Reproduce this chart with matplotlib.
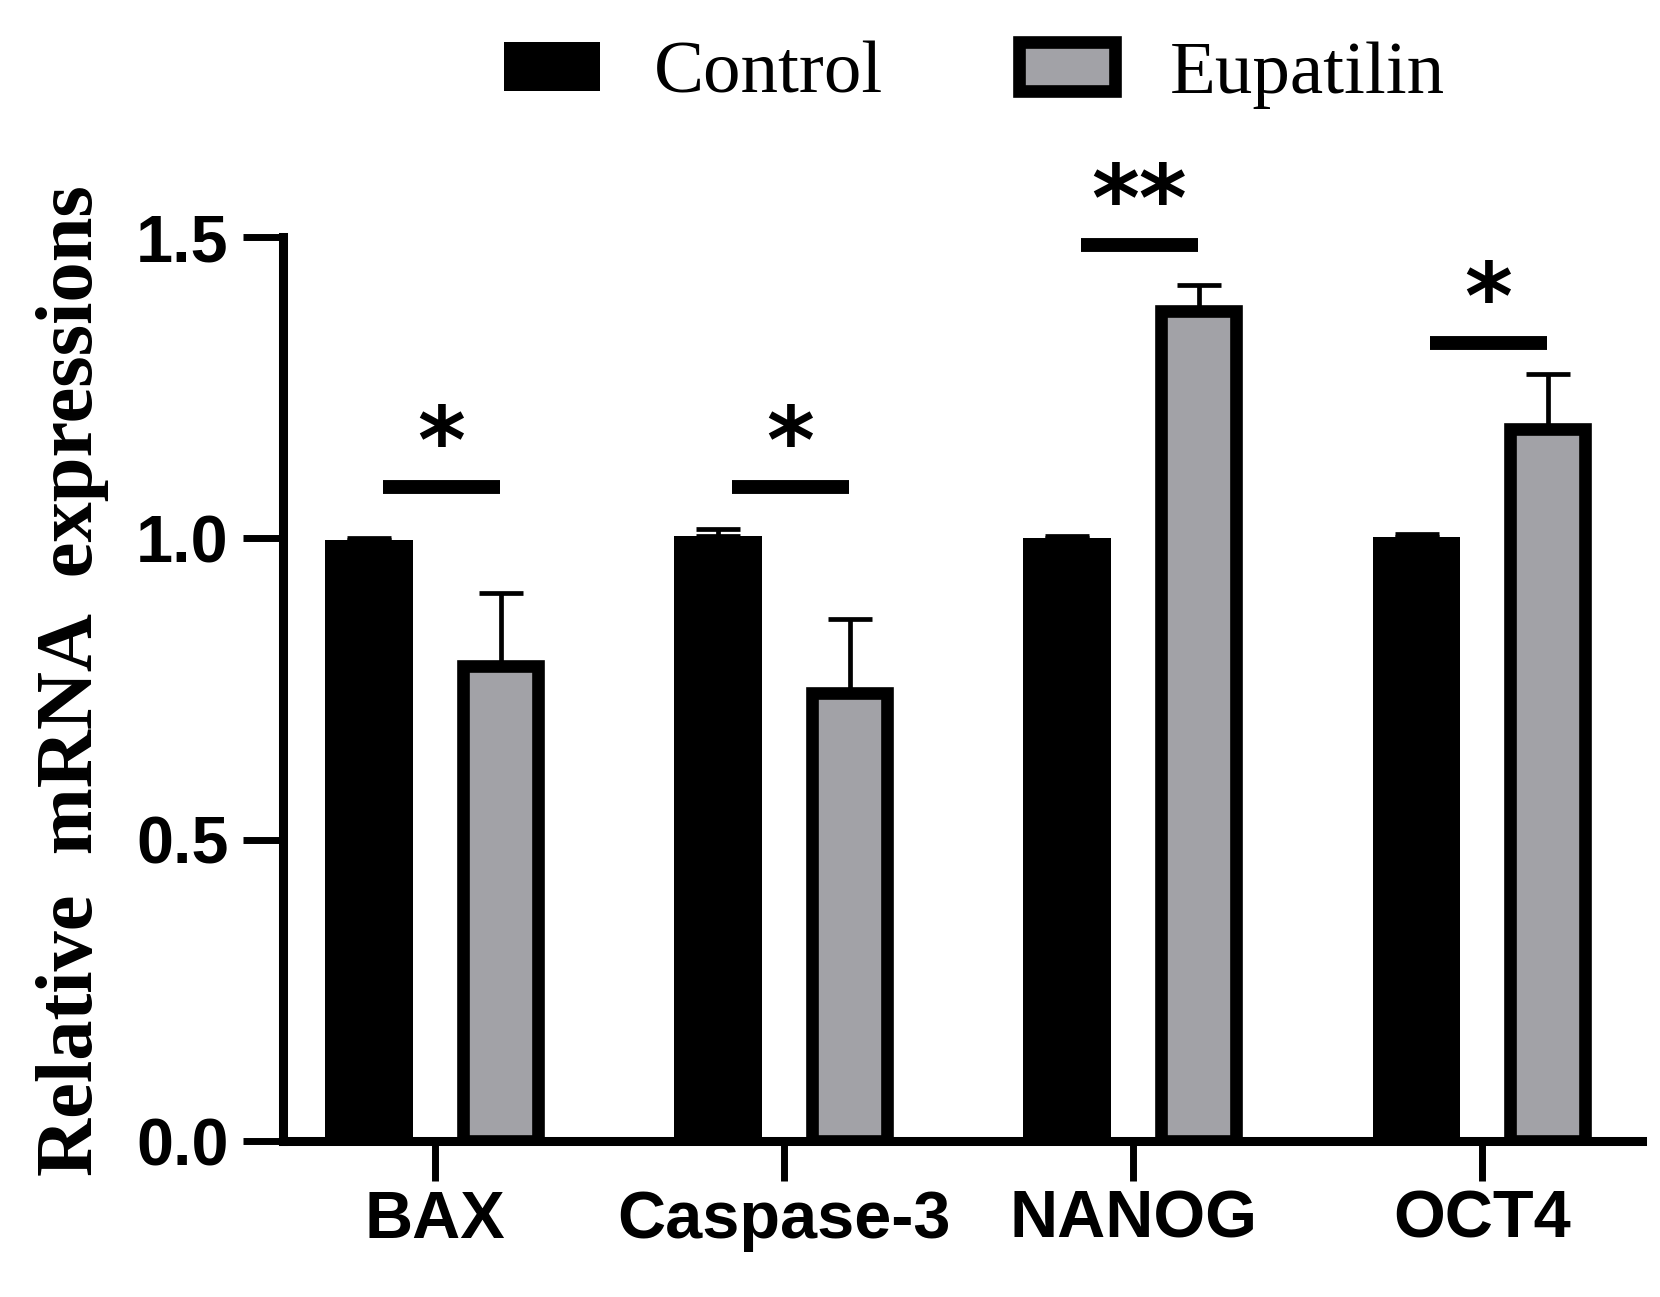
import matplotlib
matplotlib.use("Agg")
import matplotlib.pyplot as plt
import numpy as np

categories = ["BAX", "Caspase-3", "NANOG", "OCT4"]
control_vals = [0.997, 1.004, 1.000, 1.003]
control_err = [0.004, 0.011, 0.004, 0.005]
eupatilin_vals = [0.788, 0.743, 1.377, 1.182]
eupatilin_err = [0.121, 0.123, 0.044, 0.090]
sig_labels = ["*", "*", "**", "*"]
sig_line_y = [1.085, 1.085, 1.486, 1.324]
series_names = ["Control", "Eupatilin"]
yticks = [0.0, 0.5, 1.0, 1.5]

W, H = 1660, 1297
fig = plt.figure(figsize=(W / 100, H / 100), dpi=100)
ax = fig.add_axes([283 / W, 1 - 1141 / H, (1642 - 283) / W, (1141 - 237) / H])

x = np.arange(len(categories))
off = 0.188
gray = "#A2A2A7"

b1 = ax.bar(x - off, control_vals, width=0.252, color="black", edgecolor="black",
            linewidth=0, zorder=3, label=series_names[0])
b2 = ax.bar(x + off, eupatilin_vals, width=0.215, color=gray, edgecolor="black",
            linewidth=9.1, zorder=3, label=series_names[1])

zeros = [0] * len(categories)
ax.errorbar(x - off, control_vals, yerr=[zeros, control_err], fmt="none",
            ecolor="black", elinewidth=3.4, capsize=16, capthick=3.4, zorder=4)
ax.errorbar(x + off, eupatilin_vals, yerr=[zeros, eupatilin_err], fmt="none",
            ecolor="black", elinewidth=3.4, capsize=16, capthick=3.4, zorder=4)

# significance bars and stars
line_half = 0.335 / 2
for i, (lab, yl) in enumerate(zip(sig_labels, sig_line_y)):
    cx = x[i] + 0.018
    ax.plot([cx - line_half, cx + line_half], [yl, yl], color="black", lw=10,
            solid_capstyle="butt", clip_on=False, zorder=5)
    ax.text(cx, yl - 0.008, lab, ha="center", va="bottom", fontsize=66,
            fontweight="bold", family="DejaVu Sans", clip_on=False)

ax.set_xlim(-0.4355, 3.458)
ax.set_ylim(0, 1.5)
ax.set_yticks(yticks)
ax.set_yticklabels([f"{v:.1f}" for v in yticks])
ax.set_xticks(x)
ax.set_xticklabels(categories)

for s in ["top", "right"]:
    ax.spines[s].set_visible(False)
for s in ["left", "bottom"]:
    ax.spines[s].set_linewidth(6.5)

ax.tick_params(axis="both", direction="out", length=29, width=5)
ax.tick_params(axis="y", pad=10)
ax.tick_params(axis="x", pad=6)
for lbl in ax.get_xticklabels() + ax.get_yticklabels():
    lbl.set_fontfamily("Liberation Sans")
    lbl.set_fontweight("bold")
    lbl.set_fontsize(48)

ax.set_ylabel("Relative  mRNA  expressions", fontsize=58, fontweight="bold",
              family="Liberation Serif")
ax.yaxis.set_label_coords(-0.128, 0.509)

leg = fig.legend(handles=[b1, b2], labels=series_names, loc="center",
                 bbox_to_anchor=(974 / W, 1 - 75 / H), ncol=2, frameon=False,
                 prop={"family": "Liberation Serif", "size": 54},
                 handlelength=1.28, handleheight=0.63, handletextpad=0.73,
                 columnspacing=1.8)

fig.savefig("out.png", dpi=100)
